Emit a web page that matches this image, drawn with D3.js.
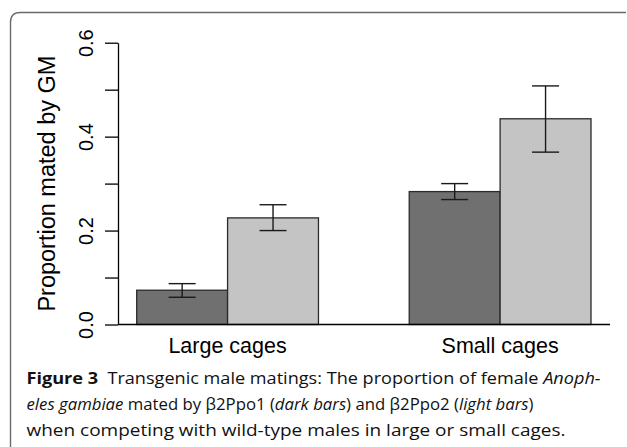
<!DOCTYPE html>
<html>
<head>
<meta charset="utf-8">
<script src="https://cdn.jsdelivr.net/npm/d3@7"></script>
<style>
  body { margin: 0; background: #fff; }
  svg { display: block; }
</style>
</head>
<body>
<div id="chart"></div>
<script>
// Data
const groups = ["Large cages", "Small cages"];
const series = ["β2Ppo1", "β2Ppo2"];
const darkValues = [0.073, 0.283];
const lightValues = [0.227, 0.438];
const darkLower = [0.058, 0.266];
const darkUpper = [0.087, 0.300];
const lightLower = [0.200, 0.367];
const lightUpper = [0.255, 0.508];
const yTicks = [0, 0.1, 0.2, 0.3, 0.4, 0.5, 0.6];
const yTickLabels = ["0.0", "", "0.2", "", "0.4", "", "0.6"];

const colors = ["#707070", "#c4c4c4"];

const W = 627, H = 447;

const svg = d3.select("#chart")
  .append("svg")
  .attr("width", W)
  .attr("height", H);

// Frame with rounded top-left corner
svg.append("path")
  .attr("d", "M10.5,447 L10.5,22 Q10.5,12.5 20,12.5 L626,12.5")
  .attr("fill", "none")
  .attr("stroke", "#6a6a6a")
  .attr("stroke-width", 1.4);

// Scales
const y = d3.scaleLinear()
  .domain([0, 0.6])
  .range([324.5, 42.7]);

const x0 = d3.scaleBand()
  .domain(groups)
  .range([136.7, 591])
  .paddingInner(0.333)
  .paddingOuter(0);

const x1 = d3.scaleBand()
  .domain(series)
  .range([0, x0.bandwidth()])
  .padding(0);

const axisX = 118;

// Build rows for drawing
const rows = [];
groups.forEach((g, i) => {
  rows.push({ group: g, s: series[0], v: darkValues[i], lo: darkLower[i], hi: darkUpper[i], c: colors[0] });
  rows.push({ group: g, s: series[1], v: lightValues[i], lo: lightLower[i], hi: lightUpper[i], c: colors[1] });
});

// Bars
svg.selectAll("rect.bar")
  .data(rows)
  .enter()
  .append("rect")
  .attr("class", "bar")
  .attr("x", d => x0(d.group) + x1(d.s))
  .attr("y", d => y(d.v))
  .attr("width", x1.bandwidth())
  .attr("height", d => y(0) - y(d.v))
  .attr("fill", d => d.c)
  .attr("stroke", "#2a2a2a")
  .attr("stroke-width", 1.3);

// Baseline at zero
svg.append("line")
  .attr("x1", axisX)
  .attr("x2", x0.range()[1] + 19)
  .attr("y1", y(0))
  .attr("y2", y(0))
  .attr("stroke", "#000")
  .attr("stroke-width", 1.6);

// Error bars
const cap = 13.5;
const err = svg.append("g")
  .attr("stroke", "#1a1a1a")
  .attr("stroke-width", 1.4);

rows.forEach(d => {
  const cx = x0(d.group) + x1(d.s) + x1.bandwidth() / 2;
  err.append("line")
    .attr("x1", cx).attr("x2", cx)
    .attr("y1", y(d.lo)).attr("y2", y(d.hi));
  err.append("line")
    .attr("x1", cx - cap).attr("x2", cx + cap)
    .attr("y1", y(d.hi)).attr("y2", y(d.hi));
  err.append("line")
    .attr("x1", cx - cap).attr("x2", cx + cap)
    .attr("y1", y(d.lo)).attr("y2", y(d.lo));
});

// Y axis
const yAxis = d3.axisLeft(y)
  .tickValues(yTicks)
  .tickSize(13)
  .tickSizeOuter(0)
  .tickFormat((d, i) => yTickLabels[i]);

const yg = svg.append("g")
  .attr("transform", `translate(${axisX},0)`)
  .call(yAxis);

yg.select(".domain").attr("stroke", "#000").attr("stroke-width", 1.3);
yg.selectAll(".tick line").attr("stroke", "#000").attr("stroke-width", 1.3);
yg.selectAll(".tick text")
  .attr("x", null)
  .attr("dy", null)
  .attr("transform", "translate(-25,0) rotate(-90)")
  .attr("text-anchor", "middle")
  .attr("fill", "#000")
  .style("font-family", "'Liberation Sans', Arial, sans-serif")
  .style("font-size", "20px");

// Y axis label
svg.append("text")
  .attr("transform", `translate(55,${(y(0) + y(0.6)) / 2}) rotate(-90)`)
  .attr("text-anchor", "middle")
  .style("font-family", "'Liberation Sans', Arial, sans-serif")
  .style("font-size", "23.5px")
  .text("Proportion mated by GM");

// Group labels
svg.selectAll("text.group")
  .data(groups)
  .enter()
  .append("text")
  .attr("class", "group")
  .attr("x", d => x0(d) + x0.bandwidth() / 2)
  .attr("y", 353)
  .attr("text-anchor", "middle")
  .style("font-family", "'Liberation Sans', Arial, sans-serif")
  .style("font-size", "21.5px")
  .text(d => d);

// Caption
const capFont = "'Open Sans', 'Noto Sans', sans-serif";
const capLines = [
  { y: 383.5, len: 574, parts: [["Figure 3", "bold", "normal"], ["  Transgenic male matings: The proportion of female ", "normal", "normal"], ["Anoph-", "normal", "italic"]] },
  { y: 410, len: 507, parts: [["eles gambiae", "normal", "italic"], [" mated by β2Ppo1 (", "normal", "normal"], ["dark bars", "normal", "italic"], [") and β2Ppo2 (", "normal", "normal"], ["light bars", "normal", "italic"], [")", "normal", "normal"]] },
  { y: 436, len: 539, parts: [["when competing with wild-type males in large or small cages.", "normal", "normal"]] }
];

capLines.forEach(line => {
  const t = svg.append("text")
    .attr("x", 26.5)
    .attr("y", line.y)
    .attr("textLength", line.len)
    .attr("lengthAdjust", "spacingAndGlyphs")
    .style("font-family", capFont)
    .style("font-size", "16.5px")
    .style("white-space", "pre")
    .attr("fill", "#111");
  line.parts.forEach(p => {
    t.append("tspan")
      .style("font-weight", p[1])
      .style("font-style", p[2])
      .text(p[0]);
  });
});
</script>
</body>
</html>
